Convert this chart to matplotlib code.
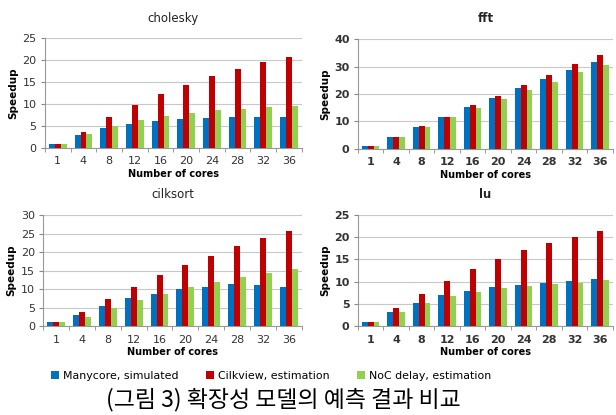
import numpy as np
import matplotlib.pyplot as plt

cores = ["1", "4", "8", "12", "16", "20", "24", "28", "32", "36"]
series_names = ["Manycore, simulated", "Cilkview, estimation", "NoC delay, estimation"]
colors = ["#0070C0", "#C00000", "#92D050"]

cholesky_sim = [1.0, 2.9, 4.5, 5.5, 6.2, 6.7, 6.9, 7.1, 7.1, 7.1]
cholesky_cilk = [1.0, 3.6, 7.0, 9.8, 12.2, 14.3, 16.3, 17.9, 19.5, 20.8]
cholesky_noc = [1.0, 3.2, 5.1, 6.5, 7.4, 8.0, 8.6, 9.0, 9.4, 9.6]

fft_sim = [1.2, 4.3, 7.9, 11.5, 15.1, 18.6, 22.0, 25.3, 28.7, 31.7]
fft_cilk = [1.2, 4.3, 8.2, 11.8, 15.9, 19.4, 23.3, 27.0, 30.8, 34.3]
fft_noc = [1.2, 4.3, 8.1, 11.5, 14.9, 18.3, 21.5, 24.5, 28.0, 30.4]

cilksort_sim = [1.0, 2.9, 5.5, 7.6, 8.8, 10.1, 10.6, 11.3, 11.0, 10.7]
cilksort_cilk = [1.0, 3.7, 7.4, 10.7, 13.7, 16.4, 19.0, 21.5, 23.7, 25.8]
cilksort_noc = [1.0, 2.6, 4.9, 7.0, 8.7, 10.5, 12.0, 13.2, 14.4, 15.5]

lu_sim = [1.0, 3.3, 5.3, 6.9, 7.8, 8.7, 9.2, 9.6, 10.1, 10.5]
lu_cilk = [1.0, 4.0, 7.2, 10.2, 12.9, 15.0, 17.1, 18.6, 20.0, 21.5]
lu_noc = [1.0, 3.3, 5.3, 6.7, 7.6, 8.5, 9.0, 9.4, 9.8, 10.3]

fig = plt.figure(figsize=(6.16, 4.15), dpi=100)


def draw(rect, title, data, ymax, ystep, bold):
    ax = fig.add_axes(rect)
    x = np.arange(len(cores))
    w = 0.23
    bars = []
    for i, vals in enumerate(data):
        b = ax.bar(x + (i - 1) * w, vals, w, color=colors[i], zorder=3)
        bars.append(b)
    ax.set_xlim(-0.5, len(cores) - 0.5)
    ax.set_ylim(0, ymax)
    ax.set_yticks(np.arange(0, ymax + 0.1, ystep))
    ax.yaxis.grid(True, color="#c8c8c8", linewidth=0.8, zorder=0)
    ax.set_xticks(x)
    ax.set_xticklabels(cores)
    ax.set_xticks(np.arange(-0.5, len(cores)), minor=True)
    ax.tick_params(axis="x", which="major", length=0, labelsize=8, pad=6)
    ax.tick_params(axis="x", which="minor", length=3, color="#888888")
    ax.tick_params(axis="y", length=3, color="#888888", labelsize=8, pad=3)
    for s in ["top", "right"]:
        ax.spines[s].set_visible(False)
    for s in ["left", "bottom"]:
        ax.spines[s].set_color("#999999")
    fw = "bold" if bold else "normal"
    for lab in ax.get_xticklabels() + ax.get_yticklabels():
        lab.set_fontweight(fw)
        lab.set_color("#333333")
    ax.set_title(title, fontsize=8.5, pad=12, color="#222222",
                 fontweight=fw)
    ax.set_xlabel("Number of cores", fontsize=7, fontweight="bold", labelpad=2)
    ax.set_ylabel("Speedup", fontsize=7.5, fontweight="bold", labelpad=3)
    return bars


bars = draw([0.073, 0.643, 0.417, 0.265], "cholesky",
            [cholesky_sim, cholesky_cilk, cholesky_noc], 25, 5, False)
draw([0.581, 0.641, 0.414, 0.265], "fft",
     [fft_sim, fft_cilk, fft_noc], 40, 10, True)
draw([0.070, 0.214, 0.420, 0.268], "cilksort",
     [cilksort_sim, cilksort_cilk, cilksort_noc], 30, 5, False)
draw([0.581, 0.214, 0.414, 0.268], "lu",
     [lu_sim, lu_cilk, lu_noc], 25, 5, True)

fig.legend(bars, series_names, loc="center", bbox_to_anchor=(0.44, 0.094),
           ncol=3, frameon=False, fontsize=7.9, handlelength=0.75,
           handleheight=0.75, handletextpad=0.35, columnspacing=2.5)

fig.text(0.46, 0.036, "(그림 3) 확장성 모델의 예측 결과 비교", ha="center", va="center",
         fontsize=16.5, family=["Noto Sans CJK KR", "DejaVu Sans"])

fig.savefig("out.png", dpi=100)
